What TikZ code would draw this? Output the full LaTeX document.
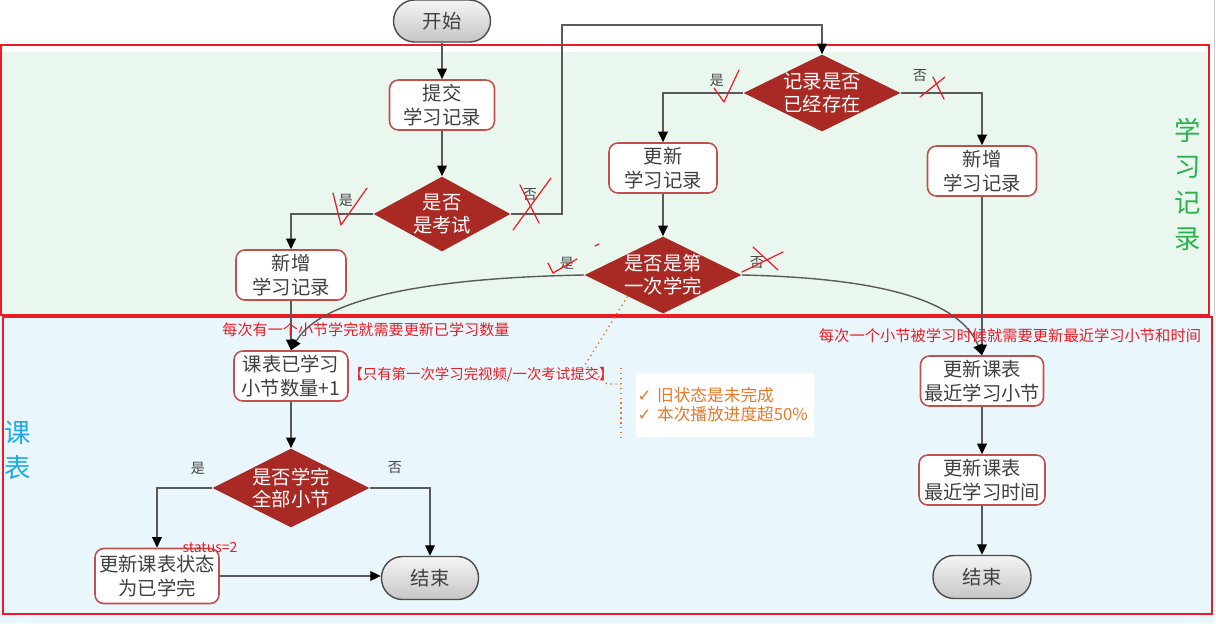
\documentclass[tikz,border=0pt]{standalone}
\usepackage{fontspec}
\setmainfont{Noto Sans CJK SC}
\newfontfamily\symfont{DejaVu Sans}
\usetikzlibrary{arrows.meta,shapes.geometric,calc}

\definecolor{nodetext}{HTML}{404040}
\definecolor{boxline}{HTML}{C0504D}
\definecolor{decfill}{HTML}{A92A25}
\definecolor{flowline}{HTML}{5A5A5A}
\definecolor{markred}{HTML}{ED1C24}
\definecolor{noteorange}{HTML}{E8782A}
\definecolor{studybg}{HTML}{EAF7EF}
\definecolor{tablebg}{HTML}{E9F6FC}
\definecolor{studygreen}{HTML}{2BB24C}
\definecolor{tableblue}{HTML}{1EAAE6}

\tikzset{
  stepbox/.style={draw=boxline, line width=0.9pt, fill=white, rounded corners=5pt,
    minimum width=2.2cm, minimum height=1cm, inner xsep=2pt, inner ysep=0pt,
    align=center, text=nodetext, font=\fontsize{11}{13.6}\selectfont},
  decision/.style={diamond, fill=decfill, inner sep=-2pt, aspect=2,
    minimum width=3.14cm, minimum height=1.54cm, align=center, text=white,
    font=\fontsize{11}{13}\selectfont},
  terminal/.style={draw=gray!60!black, line width=0.8pt, rounded corners=0.42cm,
    top color=gray!8, bottom color=gray!45, minimum width=1.94cm, minimum height=0.84cm,
    text=nodetext, font=\fontsize{11}{13}\selectfont},
  flow/.style={draw=flowline, line width=0.8pt, -{Triangle[length=6pt,width=5.5pt,color=black]}},
  answer/.style={text=gray!55!black, font=\fontsize{8}{9}\selectfont, inner sep=0pt},
  remark/.style={text=markred, font=\fontsize{8.6}{10}\selectfont, inner sep=0pt},
  scribble/.style={draw=markred, line width=0.7pt, line cap=round, line join=round},
  callout/.style={draw=noteorange, dotted, line width=0.8pt},
}

\begin{document}
\begin{tikzpicture}[x=0.02cm, y=-0.02cm]
    \useasboundingbox (0,0) rectangle (1216,623);

    % lanes
    \fill[studybg] (0,52) rectangle (1207,315);
    \fill[tablebg] (0,315) rectangle (1213,623);
    \draw[gray!40] (1214,0) -- (1214,315);
    \draw[markred, line width=1.1pt] (1,45) rectangle (1209,315);
    \draw[markred, line width=1.1pt] (3,317) rectangle (1212,614);
    \node[text=studygreen, font=\fontsize{15}{20.5}\selectfont, align=center] (lanestudy) at (1188,184) {学\\习\\记\\录};
    \node[text=tableblue, font=\fontsize{15}{20}\selectfont, align=center] (lanetable) at (18,450) {课\\表};

    % study record
    \node[terminal] (start) at (442,21) {开始};
    \node[stepbox, minimum width=2.1cm] (submit) at (442,105) {提交\\学习记录};
    \node[decision, minimum width=2.74cm, minimum height=1.5cm] (isexam) at (442,214) {是否\\是考试};
    \node[stepbox] (addleft) at (291,275) {新增\\学习记录};
    \node[decision] (exists) at (822,93) {记录是否\\已经存在};
    \node[stepbox, minimum width=2.16cm] (renew) at (663,168) {更新\\学习记录};
    \node[stepbox, minimum width=2.18cm] (addright) at (982,171) {新增\\学习记录};
    \node[decision] (firstdone) at (663,275) {是否是第\\一次学完};

    % course table
    \node[stepbox, minimum width=2.28cm] (count) at (291,376) {课表已学习\\小节数量+1};
    \node[decision, minimum height=1.58cm] (alldone) at (291,488) {是否学完\\全部小节};
    \node[stepbox, minimum width=2.48cm, minimum height=1.1cm] (finish) at (157,576) {更新课表状态\\为已学完};
    \node[terminal, minimum height=0.86cm] (endleft) at (430,578) {结束};
    \node[stepbox, minimum width=2.44cm] (lastsec) at (982,381) {更新课表\\最近学习小节};
    \node[stepbox, minimum width=2.52cm] (lasttime) at (982,480) {更新课表\\最近学习时间};
    \node[terminal, minimum width=1.96cm, minimum height=0.86cm] (endright) at (982,577) {结束};

    \draw[flow] (start) -- (submit);
    \draw[flow] (submit) -- (isexam);
    \draw[flow] (isexam.west) -| (addleft.north); % yes
    \coordinate (loop) at (562,25);
    \draw[flow] (isexam.east) -| (loop) -| (exists.north); % no
    \draw[flow] (exists.west) -| (renew.north); % yes
    \draw[flow] (exists.east) -| (addright.north); % no
    \draw[flow] (renew) -- (firstdone);
    \draw[flow] (addleft) -- (count);
    \draw[flow] (firstdone.west) .. controls (420,278) and (320,300) .. (count.north); % yes
    \draw[flow] (addright) -- (lastsec);
    \draw[flow] (firstdone.east) .. controls (880,278) and (960,300) .. (lastsec.north); % no
    \draw[flow] (count) -- (alldone);
    \draw[flow] (alldone.west) -| (finish.north); % yes
    \draw[flow] (alldone.east) -| (endleft.north); % no
    \draw[flow] (finish.east) -- (finish.east -| endleft.west);
    \draw[flow] (lastsec) -- (lasttime);
    \draw[flow] (lasttime) -- (endright);

    \node[answer] (yes1) at (346,200) {是};
    \node[answer] (no1) at (530,195) {否};
    \node[answer] (yes2) at (717,80) {是};
    \node[answer] (no2) at (920,76) {否};
    \node[answer] (yes3) at (567,263) {是};
    \node[answer] (no3) at (757,263) {否};
    \node[answer] (yes4) at (198,468) {是};
    \node[answer] (no4) at (395,468) {否};

    % notes
    \node[remark] (noteleft) at (366,330) {每次有一个小节学完就需要更新已学习数量};
    \node[remark, font=\fontsize{8.2}{10}\selectfont] (noteonce) at (481,375) {【只有第一次学习完视频/一次考试提交】};
    \node[remark, font=\fontsize{8}{9}\selectfont] (status) at (210,547) {status=2};
    \node[remark, font=\fontsize{8.7}{10}\selectfont] (noteright) at (1010,336) {每次一个小节被学习时候就需要更新最近学习小节和时间};
    \node[fill=white, text width=3.5cm, inner xsep=1pt, minimum height=1.28cm, align=left,
      text=noteorange, font=\fontsize{9.5}{10.8}\selectfont] (cond) at (725,405)
      {{\symfont ✓}\ 旧状态是未完成\\{\symfont ✓}\ 本次播放进度超50\%};
    \coordinate (knee) at (585,365);
    \draw[callout] ($(firstdone.west)!0.55!(firstdone.south)$) -- (knee) -- (607,384) -- (621,384);
    \draw[callout] (621,368) -- (621,437);

    % check / cross marks
    \draw[scribble] (333,193) -- (341,225) -- (367,188);
    \draw[scribble] (513,230) -- (551,178);
    \draw[scribble] (520,185) -- (539,223);
    \draw[scribble] (714,88) -- (724,102) -- (739,70);
    \draw[scribble] (920,97) -- (945,77);
    \draw[scribble] (933,77) -- (944,99);
    \draw[scribble] (548,263) -- (553,273) -- (577,259);
    \draw[scribble] (742,272) -- (783,252);
    \draw[scribble] (753,247) -- (778,270);
    \draw[scribble] (595,246) -- (599,244);

\end{tikzpicture}
\end{document}
